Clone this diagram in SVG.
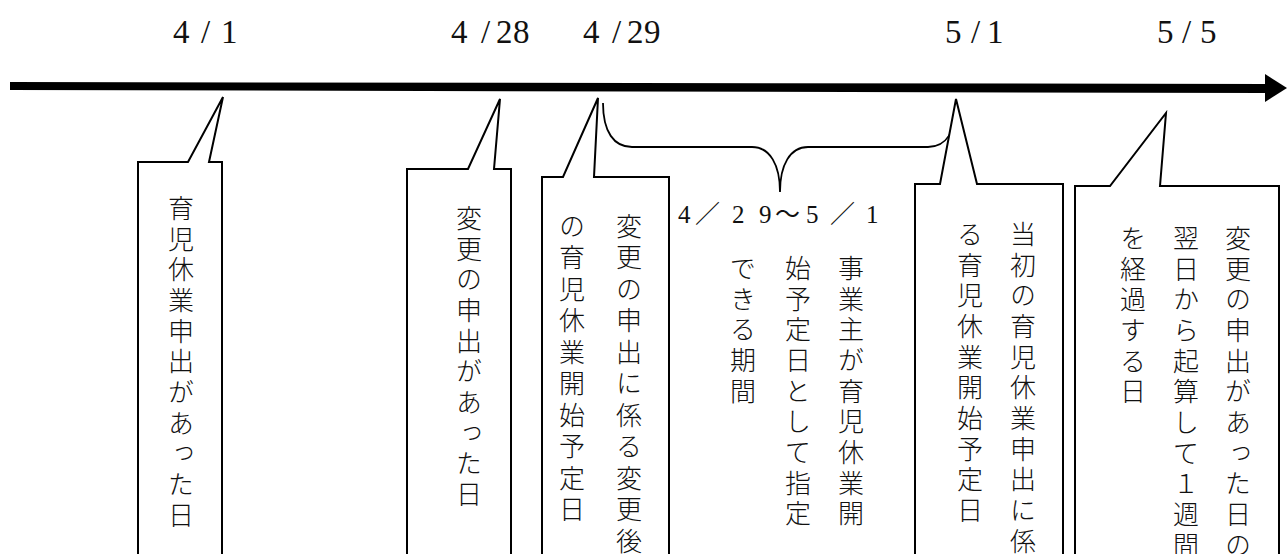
<svg xmlns="http://www.w3.org/2000/svg" width="1287" height="554" viewBox="0 0 1287 554">
<style>
.bg{fill:#fff}
.box{fill:#fff;stroke:#000;stroke-width:2;stroke-linejoin:miter}
.brace{fill:none;stroke:#000;stroke-width:1.8}
.date{font-family:"Liberation Serif","Noto Sans CJK JP",serif;font-size:33px;fill:#111}
.range{font-family:"Liberation Serif","Noto Sans CJK JP",serif;font-size:25px;fill:#111}
.v{font-family:"Liberation Serif","Noto Sans CJK JP",sans-serif;font-size:26px;font-weight:300;letter-spacing:4.7px;writing-mode:vertical-rl;fill:#111}
.wide{letter-spacing:5.5px}
</style>
<rect class="bg" x="0" y="0" width="1287" height="554"/>
<g id="timeline">
  <polygon points="10,82 1266,84 1266,93 10,90" fill="#000"/>
  <polygon points="1265,74 1287,88 1265,102" fill="#000"/>
</g>
<g id="dates">
  <text class="date" x="173 201 221" y="43">4/1</text>
  <text class="date" x="451 481 496 513" y="43">4/28</text>
  <text class="date" x="583 612 627 644" y="43">4/29</text>
  <text class="date" x="945 971 987" y="43">5/1</text>
  <text class="date" x="1157 1182 1200" y="43">5/5</text>
</g>
<g id="connectors">
  <path class="brace" d="M603,103 C603,132 614,147 632,147 L752,147 C770,147 780,165 780,192 C780,165 790,147 808,147 L928,147 C946,147 956,132 956,103"/>
</g>
<g id="node-0401">
  <path class="box" d="M138,560 L138,162 L188,162 L223,97 L209,162 L222,162 L222,560"/>
  <text class="v" x="178" y="195">育児休業申出があった日</text>
</g>
<g id="node-0428">
  <path class="box" d="M407,560 L407,169 L468,169 L500,99 L494,169 L511,169 L511,560"/>
  <text class="v" x="466" y="205">変更の申出があった日</text>
</g>
<g id="node-0429">
  <path class="box" d="M542,560 L542,177 L563,177 L598,98 L594,177 L669,177 L669,560"/>
  <text class="v wide" x="626" y="213">変更の申出に係る変更後</text>
  <text class="v wide" x="569" y="213">の育児休業開始予定日</text>
</g>
<g id="node-period">
  <text class="range" x="678 695 732 759 775 806 830 866" y="223">4／29～5／1</text>
  <text class="v" x="848" y="255">事業主が育児休業開</text>
  <text class="v" x="795" y="255">始予定日として指定</text>
  <text class="v" x="740" y="255">できる期間</text>
</g>
<g id="node-0501">
  <path class="box" d="M915,560 L915,184 L940,184 L956,99 L977,184 L1063,184 L1063,560"/>
  <text class="v" x="1020" y="221">当初の育児休業申出に係</text>
  <text class="v" x="967" y="221">る育児休業開始予定日</text>
</g>
<g id="node-0505">
  <path class="box" d="M1075,560 L1075,186 L1110,186 L1166,113 L1160,186 L1279,186 L1279,560"/>
  <text class="v" x="1235" y="225">変更の申出があった日の</text>
  <text class="v" x="1183" y="225">翌日から起算して１週間</text>
  <text class="v" x="1130" y="225">を経過する日</text>
</g>
</svg>
